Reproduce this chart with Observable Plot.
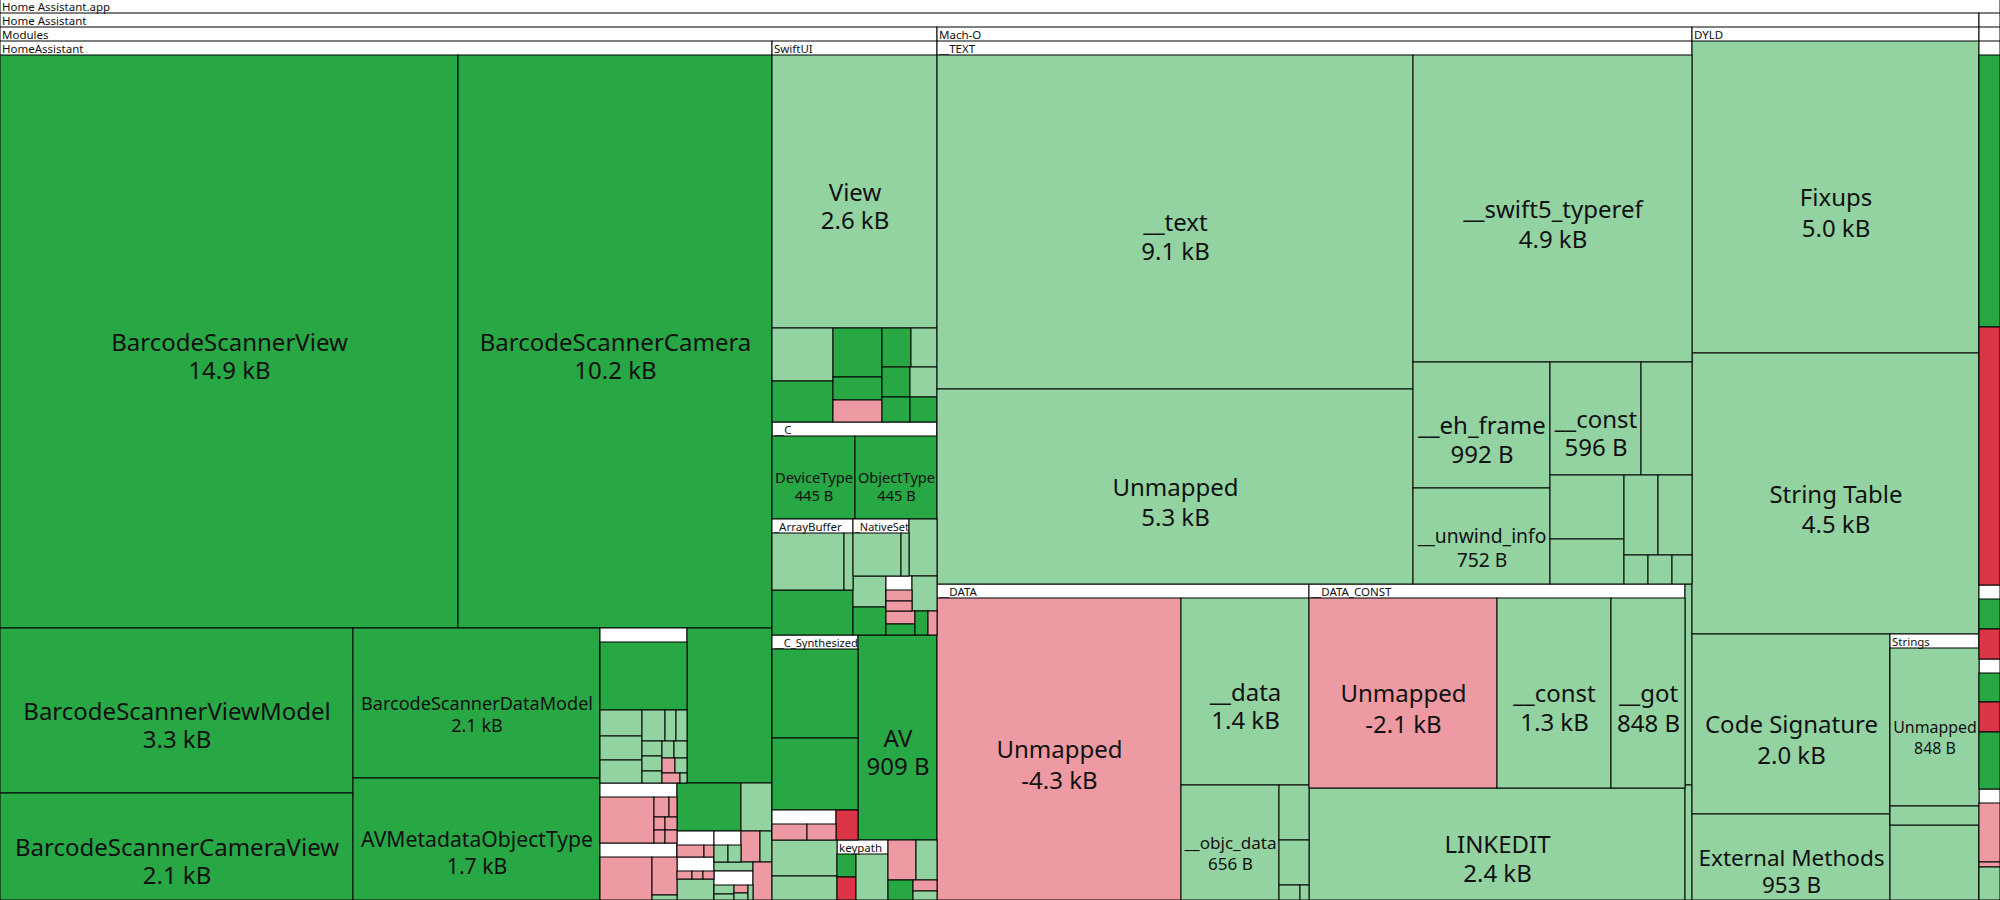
<!DOCTYPE html>
<html><head><meta charset="utf-8">
<script src="https://cdn.jsdelivr.net/npm/d3@7"></script>
<script src="https://cdn.jsdelivr.net/npm/@observablehq/plot@0.6"></script>
<style>body{margin:0;background:#fff}svg{display:block}</style>
</head><body>
<script>
// ---------- DATA ----------
const APP = "Home Assistant.app";
const HA = APP + "/Home Assistant";
const MODULES = HA + "/Modules";
const MACHO = HA + "/Mach-O";
const DYLD = HA + "/DYLD";
const PLUGIN = APP + "/PlugIns/HomeAssistantWidgets.appex";

const statusNames = ["added", "grown", "shrunk", "removed", "group"];
const statusColors = ["#28a745", "#93d3a2", "#ed9aa2", "#dc3545", "#ffffff"];

// [path, signed size in bytes, status]; "~" marks an unnamed grouping
const homeAssistantModule = [
  ["BarcodeScannerView", 14900, "added"],
  ["BarcodeScannerCamera", 10200, "added"],
  ["BarcodeScannerViewModel", 3300, "added"],
  ["BarcodeScannerCameraView", 2140, "added"],
  ["BarcodeScannerDataModel", 2100, "added"],
  ["AVMetadataObjectType", 1700, "added"],
  ["HomeAssistantCommon/BarcodeScannerCoordinator", 369, "added"],
  ["HomeAssistantCommon/ScanResultFormatter", 69, "grown"],
  ["HomeAssistantCommon/CameraPermissionHandler", 63, "grown"],
  ["HomeAssistantCommon/ScanOverlayConfiguration", 61, "grown"],
  ["HomeAssistantCommon/TorchToggleButtonStyle", 44, "grown"],
  ["HomeAssistantCommon/BarcodeFormatMapping", 20, "grown"],
  ["HomeAssistantCommon/HapticFeedbackGenerator", 20, "grown"],
  ["HomeAssistantCommon/ScannerAnalyticsEvent", 20, "grown"],
  ["HomeAssistantCommon/ScannerLocalizedStrings", 18, "grown"],
  ["HomeAssistantCommon/ScannerErrorPresenter", 16, "grown"],
  ["HomeAssistantCommon/CodeTypeDescriptionProvider", 13, "grown"],
  ["HomeAssistantCommon/ScanAreaRectCalculator", 13, "grown"],
  ["HomeAssistantCommon/LegacyScannerBridge", -12, "shrunk"],
  ["HomeAssistantCommon/ScanHistoryStore", 11, "grown"],
  ["HomeAssistantCommon/DeprecatedScanOptions", -11, "shrunk"],
  ["HomeAssistantCommon/ScannerDebugLogger", 4, "grown"],
  ["BarcodeScannerOverlayShapeView", 749, "added"],
  ["LegacyBarcodeSupport/LegacyBarcodeReader", -186, "shrunk"],
  ["LegacyBarcodeSupport/LegacyReaderDelegate", -21, "shrunk"],
  ["LegacyBarcodeSupport/LegacyReaderSession", -12, "shrunk"],
  ["LegacyBarcodeSupport/LegacyReaderOptions", -11, "shrunk"],
  ["LegacyBarcodeSupport/LegacyReaderOverlay", -11, "shrunk"],
  ["LegacyBarcodeSupport/LegacyReaderResult", -11, "shrunk"],
  ["LegacyBarcodeSupport/LegacyReaderQueue", -11, "shrunk"],
  ["ScannerOnboardingFlow/OnboardingScannerStep", -168, "shrunk"],
  ["ScannerOnboardingFlow/OnboardingScannerHint", -70, "shrunk"],
  ["ScannerOnboardingFlow/OnboardingScannerState", 10, "grown"],
  ["BarcodeScannerSettingsView", 174, "added"],
  ["BarcodeScannerToolbarItems", 85, "grown"],
  ["ScannerSessionQueueing/SessionQueueConfiguration", -40, "shrunk"],
  ["ScannerSessionQueueing/SessionQueueLabel", -15, "shrunk"],
  ["CameraPreviewLayerHost/PreviewLayerCoordinator", -20, "shrunk"],
  ["CameraPreviewLayerHost/PreviewLayerBounds", -14, "shrunk"],
  ["CameraPreviewLayerHost/PreviewLayerGravity", -14, "shrunk"],
  ["ScanFeedbackBannerView", 44, "grown"],
  ["ScannerAccessibilityLabels/AccessibilityScanHint", 24, "grown"],
  ["ScannerAccessibilityLabels/AccessibilityTorchLabel", 22, "grown"],
  ["ScannerStateRestoration", -34, "shrunk"],
  ["ScannerWindowSceneHelper", 20, "grown"],
  ["BarcodePayloadParserHelper", 20, "grown"],
  ["ScannerNotificationNames/ScannerDidStartNotification", 18, "grown"],
  ["ScannerNotificationNames/ScannerDidStopNotification", 14, "grown"],
  ["ScannerNotificationNames/ScannerDidFailNotification", -12, "shrunk"],
  ["ScannerNotificationNames/ScannerDidPauseNotification", 10, "grown"],
  ["ScannerNotificationNames/ScannerDidResumeNotification", 9, "grown"],
  ["ScannerOrientationObserver", -40, "shrunk"]
];

const otherModules = [
  ["SwiftUI/View", 2620, "grown"],
  ["SwiftUI/_ConditionalContent", 186, "grown"],
  ["SwiftUI/ModifiedContent", 146, "added"],
  ["SwiftUI/_VariadicView_Tree", 140, "added"],
  ["SwiftUI/EnvironmentValues", 67, "added"],
  ["SwiftUI/PreferenceKeyStorage", -64, "shrunk"],
  ["SwiftUI/_ViewModifier_Content", 64, "added"],
  ["SwiftUI/ButtonStyleConfiguration", 58, "grown"],
  ["SwiftUI/GeometryProxyStorage", 49, "added"],
  ["SwiftUI/NavigationDestination", 47, "grown"],
  ["SwiftUI/StateObjectStorage", 41, "added"],
  ["SwiftUI/ToolbarItemPlacement", 40, "added"],
  ["__C/DeviceType", 445, "added"],
  ["__C/ObjectType", 445, "added"],
  ["~rest/~buffers/_ArrayBuffer/ContiguousArrayStorage", 287, "grown"],
  ["~rest/~buffers/_ArrayBuffer/_ArrayBody", 36, "grown"],
  ["~rest/~buffers/IndexingIteratorState", 200, "added"],
  ["~rest/~sets/_NativeSet/_SetStorage", 157, "grown"],
  ["~rest/~sets/_NativeSet/_HashTable", 25, "grown"],
  ["~rest/~sets/_NativeDictionary", 91, "grown"],
  ["~rest/~sets/_DictionaryStorage", 56, "grown"],
  ["~rest/~sets/_ContiguousArrayBuffer", 52, "added"],
  ["~rest/~sets/_StringGuts/_StringObject", -27, "shrunk"],
  ["~rest/~sets/_StringGuts/_StringStorage", -23, "shrunk"],
  ["~rest/~sets/_UnsafeBitsetStorage", 49, "grown"],
  ["~rest/~sets/_SliceBufferStorage", -21, "shrunk"],
  ["~rest/~sets/_CocoaDictionary", 18, "added"],
  ["~rest/~sets/_BridgeStorage", 18, "added"],
  ["~rest/~sets/_SmallString", -12, "shrunk"],
  ["~rest/__C_Synthesized/NSKeyValueObservingOptions", 461, "added"],
  ["~rest/__C_Synthesized/AVLayerVideoGravity", 373, "added"],
  ["~rest/__C_Synthesized/CGImagePropertyOrientation/rawValue", -65, "shrunk"],
  ["~rest/__C_Synthesized/CGImagePropertyOrientation/init(rawValue:)", -52, "shrunk"],
  ["~rest/__C_Synthesized/UIAccessibilityTraits", -40, "removed"],
  ["~rest/AV", 909, "added"],
  ["~rest/~misc/CoreFoundationBridging", 129, "grown"],
  ["~rest/~misc/UniformTypeIdentifiers", 88, "grown"],
  ["~rest/keypath/ReferenceWritableKeyPath", 33, "added"],
  ["~rest/keypath/WritableKeyPath", -32, "removed"],
  ["~rest/keypath/PartialKeyPath", 105, "grown"],
  ["~rest/~other/CoreMediaSupport", -63, "shrunk"],
  ["~rest/~other/CoreGraphicsSupport", 48, "grown"],
  ["~rest/~other/DispatchQueueSupport", 27, "added"],
  ["~rest/~other/ObjectiveCBridging", -15, "shrunk"],
  ["~rest/~other/QuartzCoreSupport", 12, "grown"]
];

const textSegment = [
  ["__text", 9100, "grown"], ["Unmapped", 5300, "grown"], ["__swift5_typeref", 4900, "grown"],
  ["__eh_frame", 992, "grown"], ["__unwind_info", 752, "grown"], ["__const", 596, "grown"],
  ["__swift5_reflstr", 327, "grown"], ["__swift5_fieldmd", 270, "grown"], ["__swift5_capture", 190, "grown"],
  ["__swift5_assocty", 157, "grown"], ["__swift5_protos", 152, "grown"], ["__objc_methname", 40, "grown"],
  ["__swift5_proto", 40, "grown"], ["__swift5_types", 32, "grown"]
];
const dataSegment = [
  ["Unmapped", -4300, "shrunk"], ["__data", 1400, "grown"], ["__objc_data", 656, "grown"],
  ["__la_symbol_ptr", 94, "grown"], ["__objc_classrefs", 78, "grown"],
  ["__objc_selrefs", 18, "grown"], ["__common_symbols", 8, "grown"]
];
const dataConstSegment = [
  ["Unmapped", -2140, "shrunk"], ["__const", 1300, "grown"], ["__got", 848, "grown"]
];
const machOOther = [
  ["LINKEDIT", 2360, "grown"], ["Load Commands", 70, "grown"], ["Mach-O Header", 40, "grown"]
];
const dyldSection = [
  ["Fixups", 5000, "grown"], ["String Table", 4500, "grown"], ["Code Signature", 2000, "grown"],
  ["External Methods", 953, "grown"], ["Strings/Unmapped", 848, "grown"],
  ["Strings/Objective-C Method Names", 100, "grown"], ["Function Starts Table", 370, "grown"]
];
const widgetExtension = [
  ["HomeAssistantWidgets/WidgetTimelineProvider", 328, "added"],
  ["HomeAssistantWidgets/LegacyWidgetProvider", -311, "removed"],
  ["SwiftUI/WidgetConfigurationView", 44, "added"],
  ["SwiftUI/LegacyWidgetConfigurationView", -43, "removed"],
  ["WidgetKit/WidgetFamilyOptions", 38, "added"],
  ["WidgetKit/LegacyWidgetFamilyOptions", -40, "removed"],
  ["WidgetKit/WidgetRelevanceEntry", 75, "added"],
  ["Foundation/TimelineDateFormatter", -79, "shrunk"],
  ["Foundation/TimelineCalendarCache", -7, "shrunk"],
  ["Foundation/TimelineRefreshPolicy", 44, "grown"]
];

const sections = [
  [MODULES + "/HomeAssistant", homeAssistantModule],
  [MODULES, otherModules],
  [MACHO + "/__TEXT", textSegment],
  [MACHO + "/__DATA", dataSegment],
  [MACHO + "/__DATA_CONST", dataConstSegment],
  [MACHO, machOOther],
  [DYLD, dyldSection],
  [PLUGIN, widgetExtension]
];

// ---------- HIERARCHY ----------
const tree = {name: APP, key: APP, children: []};
for (const [prefix, rows] of sections) {
  for (const [rel, bytes, status] of rows) {
    const parts = (prefix + "/" + rel).split("/").slice(1);
    let node = tree;
    parts.forEach((p, i) => {
      if (i === parts.length - 1) { node.children.push({name: p, bytes, status}); return; }
      let c = node.children.find(c => c.children && c.key === p);
      if (!c) { c = {name: p.startsWith("~") ? "" : p, key: p, anon: p.startsWith("~"), children: []}; node.children.push(c); }
      node = c;
    });
  }
}

const W = 2000, H = 900;
const root = d3.hierarchy(tree).sum(d => d.children ? 0 : Math.abs(d.bytes));
d3.treemap().tile(d3.treemapSquarify).size([W, H + 1])
  .paddingTop(n => n.data.anon ? 0 : 14).round(true)(root);

// ---------- LABELS ----------
const FONT = '"Noto Sans"';
const ctx = document.createElement("canvas").getContext("2d");
function measure(t, s) { ctx.font = `${s}px ${FONT}`; return ctx.measureText(t); }
function fmtBytes(b) {
  const a = Math.abs(b), s = b < 0 ? "-" : "";
  return a >= 1000 ? `${s}${(a / 1000).toFixed(1)} kB` : `${s}${a} B`;
}

const boxes = root.descendants().filter(n => !n.data.anon).map(n => ({
  x0: n.x0, x1: n.x1, y0: n.y0, y1: n.y1,
  status: n.children ? "group" : n.data.status
}));

const HFS = 11.5;
const headers = [];
for (const n of root.descendants()) {
  if (!n.children || n.data.anon) continue;
  const avail = n.x1 - n.x0 - 2;
  const tw = measure(n.data.name, HFS).width;
  const fs = tw <= avail ? HFS : HFS * avail / tw;
  if (fs < HFS * 0.84) continue;
  headers.push({x: n.x0 + 1.5, y: n.y0 + 11, text: n.data.name, fs});
}

const labels = [];
for (const n of root.leaves()) {
  const w = n.x1 - n.x0, h = n.y1 - n.y0;
  const t1 = n.data.name, t2 = fmtBytes(n.data.bytes);
  const unit = Math.max(measure(t1, 100).width, measure(t2, 100).width) / 100;
  const fs = Math.min(24, (w * 0.94) / unit);
  if (fs < 13 || h < fs * 2.4) continue;
  const a = measure(t1, fs), b = measure(t2, fs);
  const cy = (n.y0 + n.y1) / 2;
  const b1 = cy + 0.357 * fs;
  const step = Math.max(1.2 * fs, a.actualBoundingBoxDescent + b.actualBoundingBoxAscent + 0.28 * fs);
  labels.push({x: (n.x0 + n.x1) / 2, y1: b1, y2: b1 + step, t1, t2, fs});
}

// ---------- PLOT ----------
const chart = Plot.plot({
  width: W, height: H, margin: 0,
  style: {fontFamily: FONT, background: "#fff"},
  x: {type: "linear", domain: [0, W], range: [0, W], axis: null},
  y: {type: "linear", domain: [1, H + 1], range: [0, H], axis: null},
  color: {type: "ordinal", domain: statusNames, range: statusColors},
  marks: [
    Plot.rect(boxes, {x1: "x0", x2: "x1", y1: "y0", y2: "y1", fill: "status", stroke: "#000", strokeWidth: 1}),
    Plot.text(headers, {x: "x", y: "y", text: "text", textAnchor: "start", lineAnchor: "bottom",
      fontSize: d => d.fs, fontFamily: FONT, fill: "#111"}),
    Plot.text(labels, {x: "x", y: "y1", text: "t1", textAnchor: "middle", lineAnchor: "bottom",
      fontSize: d => d.fs, fontFamily: FONT, fill: "#111"}),
    Plot.text(labels, {x: "x", y: "y2", text: "t2", textAnchor: "middle", lineAnchor: "bottom",
      fontSize: d => d.fs, fontFamily: FONT, fill: "#111"})
  ]
});
document.body.appendChild(chart);
</script>
</body></html>
